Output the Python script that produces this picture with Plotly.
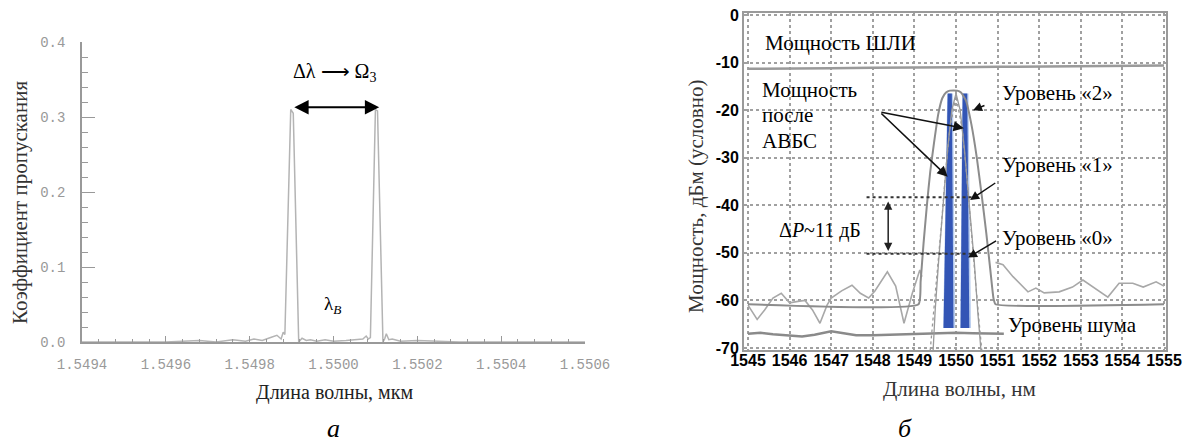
import plotly.graph_objects as go

# ---------------- Panel (a): transmission spectrum ----------------
wl_a = [1.54940, 1.54960, 1.54968, 1.54972, 1.54976, 1.54979, 1.54981, 1.54983, 1.54985,
        1.549865, 1.549875, 1.549880, 1.549884, 1.549898, 1.549904, 1.549917, 1.549925,
        1.549935, 1.549945, 1.54996, 1.54998, 1.55000, 1.55003, 1.55005, 1.55007, 1.550078,
        1.550083, 1.550088, 1.550100, 1.550105, 1.550118, 1.550122, 1.550126, 1.550132,
        1.550140, 1.550160, 1.550200, 1.550300, 1.550600]
t_a = [0.0, 0.0, 0.002, 0.0, 0.003, 0.001, 0.004, 0.002, 0.006,
       0.009, 0.004, 0.013, 0.01, 0.31, 0.305, 0.0, 0.005,
       0.002, 0.003, 0.001, 0.003, 0.001, 0.002, 0.003, 0.004, 0.008,
       0.004, 0.006, 0.31, 0.308, 0.0, 0.004, 0.011, 0.003,
       0.004, 0.001, 0.002, 0.0, 0.0]
xt_a = [1.5494, 1.5496, 1.5498, 1.5500, 1.5502, 1.5504, 1.5506]
xl_a = ["1.5494", "1.5496", "1.5498", "1.5500", "1.5502", "1.5504", "1.5506"]
yt_a = [0.0, 0.1, 0.2, 0.3, 0.4]
yl_a = ["0.0", "0.1", "0.2", "0.3", "0.4"]
arrow_a = [1.549903, 1.550109, 0.313]   # x start, x end, level

# ---------------- Panel (b): spectra, dBm ----------------
shli_x = [1545, 1546, 1547, 1548, 1549, 1550, 1551, 1552, 1553, 1554, 1555]
shli_y = [-11.3, -11.3, -11.2, -11.1, -11.1, -11.0, -10.9, -10.8, -10.8, -10.7, -10.6]

wide_x = [1545, 1549.10, 1549.15, 1549.22, 1549.30, 1549.38, 1549.47, 1549.57, 1549.67,
          1549.76, 1549.85, 1550.03, 1550.12, 1550.24, 1550.37, 1550.50, 1550.62, 1550.73,
          1550.83, 1550.90, 1550.95, 1555]
wide_y = [-60.8, -60.8, -56, -48, -40, -33, -27, -21, -17.5,
          -16.3, -15.9, -15.9, -16.3, -18, -23, -30, -38, -46,
          -54, -59.5, -60.8, -60.8]

noise_x = [1545, 1545.3, 1545.6, 1546, 1546.3, 1546.6, 1547, 1547.3, 1547.6, 1548,
           1548.4, 1548.8, 1549.2, 1549.6, 1550, 1550.4, 1550.8, 1551.15]
noise_y = [-67.0, -66.8, -67.1, -67.4, -67.6, -67.2, -66.5, -66.9, -67.3, -67.3,
           -67.2, -67.0, -66.9, -66.8, -66.8, -66.9, -67.0, -67.0]

osa_left_x = [1545, 1545.1, 1545.22, 1545.4, 1545.6, 1545.8, 1546, 1546.2, 1546.37,
              1546.55, 1546.73, 1546.9, 1547, 1547.25, 1547.5, 1547.7, 1547.9, 1548.05,
              1548.35, 1548.55, 1548.75, 1548.95, 1549.13, 1549.18]
osa_left_y = [-61, -62.5, -64, -62, -59.5, -58.5, -60.5, -60.2, -60,
              -62, -64.8, -61, -59.5, -58, -56.8, -58.5, -59.5, -58,
              -54, -57, -64.8, -58.5, -53.6, -55]
osa_right_x = [1550.95, 1551.13, 1551.37, 1551.55, 1551.73, 1551.92, 1552.12, 1552.48,
               1552.8, 1553.05, 1553.29, 1553.65, 1553.92, 1554.25, 1554.5, 1554.81, 1555]
osa_right_y = [-52, -52.5, -55, -56.5, -58.2, -57.4, -58.4, -58.2,
               -57.2, -55.7, -57.2, -59.3, -56.4, -56.4, -57.2, -56.1, -57]

narrow1_x = [1549.45, 1549.50, 1549.58, 1549.65, 1549.72, 1549.80, 1549.90, 1550.00,
             1550.10, 1550.20, 1550.28, 1550.36, 1550.44, 1550.52, 1550.60]
narrow1_y = [-70.5, -62, -52, -44, -36, -28, -20, -16.5, -20, -28, -36, -44, -52, -62, -70.5]
narrow2_x = [1549.38, 1549.45, 1549.55, 1549.65, 1549.75, 1549.85, 1550.00, 1550.15,
             1550.25, 1550.35, 1550.45, 1550.55, 1550.62]
narrow2_y = [-70.5, -64, -54, -44, -33, -24, -17, -24, -33, -44, -54, -64, -70.5]

bar1_x = [1549.70, 1549.80, 1549.90, 1549.94, 1549.70]
bar2_x = [1550.11, 1550.16, 1550.27, 1550.32, 1550.11]
bar_y = [-65.8, -16.5, -16.5, -65.8, -65.8]
halo1_x = [1549.69, 1549.79, 1549.93, 1549.98, 1549.69]
halo2_x = [1550.10, 1550.15, 1550.30, 1550.36, 1550.10]

level_x = [1547.85, 1550.45]
level1_y = -38.3
level0_y = -50.2
dp_arrow = [1548.37, -38.9, -49.6]

xt_b = list(range(1545, 1556))
xl_b = [str(v) for v in xt_b]
yt_b = [0, -10, -20, -30, -40, -50, -60, -70]
yl_b = ["0", "-10", "-20", "-30", "-40", "-50", "-60", "-70"]

W, H = 1186, 443
def px(x): return x / W
def py(y): return 1 - y / H

fig = go.Figure()

# Panel a
fig.add_trace(go.Scatter(x=wl_a, y=t_a, mode="lines", line=dict(color="#b4b4b4", width=1.5),
                         xaxis="x", yaxis="y", showlegend=False, hoverinfo="skip"))

# Panel b traces
gray = "#8c8c8c"
fig.add_trace(go.Scatter(x=shli_x, y=shli_y, mode="lines", line=dict(color="#9a9a9a", width=2.5),
                         xaxis="x2", yaxis="y2", showlegend=False))
fig.add_trace(go.Scatter(x=osa_left_x, y=osa_left_y, mode="lines", line=dict(color="#a8a8a8", width=1.6),
                         xaxis="x2", yaxis="y2", showlegend=False))
fig.add_trace(go.Scatter(x=osa_right_x, y=osa_right_y, mode="lines", line=dict(color="#a8a8a8", width=1.6),
                         xaxis="x2", yaxis="y2", showlegend=False))
fig.add_trace(go.Scatter(x=noise_x, y=noise_y, mode="lines", line=dict(color="#8a8a8a", width=2.5),
                         xaxis="x2", yaxis="y2", showlegend=False))
fig.add_trace(go.Scatter(x=halo1_x, y=bar_y, fill="toself", mode="none", fillcolor="#b9cdee",
                         xaxis="x2", yaxis="y2", showlegend=False))
fig.add_trace(go.Scatter(x=halo2_x, y=bar_y, fill="toself", mode="none", fillcolor="#b9cdee",
                         xaxis="x2", yaxis="y2", showlegend=False))
fig.add_trace(go.Scatter(x=bar1_x, y=bar_y, fill="toself", mode="none", fillcolor="#3355b5",
                         xaxis="x2", yaxis="y2", showlegend=False))
fig.add_trace(go.Scatter(x=bar2_x, y=bar_y, fill="toself", mode="none", fillcolor="#3355b5",
                         xaxis="x2", yaxis="y2", showlegend=False))
fig.add_trace(go.Scatter(x=narrow2_x, y=narrow2_y, mode="lines", line=dict(color="#999999", width=1.3, dash="dot"),
                         xaxis="x2", yaxis="y2", showlegend=False))
fig.add_trace(go.Scatter(x=narrow1_x, y=narrow1_y, mode="lines", line=dict(color="#9a9a9a", width=1.3),
                         xaxis="x2", yaxis="y2", showlegend=False))
fig.add_trace(go.Scatter(x=wide_x, y=wide_y, mode="lines", line=dict(color=gray, width=2, shape="spline", smoothing=0.4),
                         xaxis="x2", yaxis="y2", showlegend=False))
fig.add_trace(go.Scatter(x=level_x, y=[level1_y, level1_y], mode="lines",
                         line=dict(color="#333333", width=2, dash="dot"),
                         xaxis="x2", yaxis="y2", showlegend=False))
fig.add_trace(go.Scatter(x=level_x, y=[level0_y, level0_y], mode="lines",
                         line=dict(color="#333333", width=2, dash="dot"),
                         xaxis="x2", yaxis="y2", showlegend=False))

serif = "Liberation Serif, Times New Roman, serif"
ann = []

def pt(x, y, text, size, color="black", angle=0):
    return dict(x=px(x), y=py(y), xref="paper", yref="paper", text=text, showarrow=False,
                xanchor="center", yanchor="middle", textangle=angle,
                font=dict(family=serif, size=size, color=color))

# panel a annotations
ann.append(dict(x=arrow_a[1], y=arrow_a[2], ax=arrow_a[0], ay=arrow_a[2], xref="x", yref="y",
                axref="x", ayref="y", text="", showarrow=True, arrowhead=2, startarrowhead=2,
                arrowside="end+start", arrowsize=1.3, startarrowsize=1.3, arrowwidth=2.2,
                arrowcolor="black", standoff=0, startstandoff=0))
ann.append(dict(x=1.550003, y=0.359, xref="x", yref="y", text="Δλ ⟶ Ω<sub>3</sub>", showarrow=False,
                xanchor="center", yanchor="middle", font=dict(family=serif, size=20, color="black")))
ann.append(dict(x=1.549998, y=0.049, xref="x", yref="y", text="λ<sub><i>B</i></sub>", showarrow=False,
                xanchor="center", yanchor="middle", font=dict(family=serif, size=19, color="black")))
ann.append(pt(334, 392, "Длина волны, мкм", 20, "#222222"))
ann.append(pt(20, 203, "Коэффициент пропускания", 21, "#333333", -90))
ann.append(pt(333, 428, "<i>а</i>", 26))

# panel b annotations
ann.append(pt(905, 428, "<i>б</i>", 26))
ann.append(pt(959, 389, "Длина волны, нм", 21, "#333333"))
ann.append(pt(696, 197, "Мощность, дБм (условно)", 21, "#333333", -90))

def tb(x, y, text, xanchor="left", size=21):
    return dict(x=x, y=y, xref="x2", yref="y2", text=text, showarrow=False, xanchor=xanchor,
                yanchor="middle", font=dict(family=serif, size=size, color="black"))

ann.append(tb(1545.35, -5.9, "Мощность ШЛИ"))
ann.append(tb(1545.3, -15.8, "Мощность"))
ann.append(tb(1545.3, -21.1, "после"))
ann.append(tb(1545.3, -26.4, "АВБС"))
ann.append(tb(1551.05, -16.4, "Уровень «2»"))
ann.append(tb(1551.05, -31.5, "Уровень «1»"))
ann.append(tb(1551.05, -46.9, "Уровень «0»"))
ann.append(tb(1551.2, -65.2, "Уровень шума"))
ann.append(tb(1546.73, -45.2, "Δ<i>P</i>~11 дБ", xanchor="center", size=20))

def arr(x0, y0, x1, y1, w=1.5, size=1.2):
    return dict(x=x1, y=y1, ax=x0, ay=y0, xref="x2", yref="y2", axref="x2", ayref="y2", text="",
                showarrow=True, arrowhead=2, arrowsize=size, arrowwidth=w, arrowcolor="#111111",
                standoff=0)

ann.append(arr(1548.17, -20.4, 1549.80, -34.0, w=1.6, size=1.3))
ann.append(arr(1548.17, -20.4, 1550.19, -23.8, w=1.6, size=1.3))
ann.append(arr(1550.72, -18.9, 1550.41, -20.0))
ann.append(arr(1550.98, -35.1, 1550.34, -38.9))
ann.append(arr(1551.00, -47.3, 1550.29, -51.0))
ann.append(dict(x=dp_arrow[0], y=dp_arrow[2], ax=dp_arrow[0], ay=dp_arrow[1], xref="x2", yref="y2",
                axref="x2", ayref="y2", text="", showarrow=True, arrowhead=2, startarrowhead=2,
                arrowside="end+start", arrowsize=1.1, startarrowsize=1.1, arrowwidth=1.5,
                arrowcolor="#222222", standoff=0, startstandoff=0))

mono = "Liberation Mono, Courier New, monospace"
bold = "Liberation Sans, Arial"

fig.update_layout(
    width=W, height=H, margin=dict(l=0, r=0, t=0, b=0),
    paper_bgcolor="white", plot_bgcolor="white", showlegend=False,
    annotations=ann,
    xaxis=dict(domain=[px(82), px(585)], range=[1.5494, 1.5506], anchor="y",
               tickvals=xt_a, ticktext=xl_a, ticks="inside", ticklen=6, tickwidth=1.2,
               tickcolor="#999999", showline=True, linecolor="#999999", linewidth=1.5,
               showgrid=False, zeroline=False, ticklabelstandoff=8,
               minor=dict(ticks="inside", ticklen=3, dtick=0.00004, tickcolor="#999999", showgrid=False),
               tickfont=dict(family=mono, size=14, color="#999999"), automargin=False),
    yaxis=dict(domain=[py(342), py(42)], range=[0, 0.4], anchor="x",
               tickvals=yt_a, ticktext=yl_a, ticks="inside", ticklen=13, tickwidth=1.2,
               tickcolor="#999999", showline=True, linecolor="#999999", linewidth=1.5,
               showgrid=False, zeroline=False, ticklabelstandoff=12,
               minor=dict(ticks="inside", ticklen=6, dtick=0.02, tickcolor="#999999", showgrid=False),
               tickfont=dict(family=mono, size=14, color="#999999"), automargin=False),
    xaxis2=dict(domain=[px(744), px(1166)], range=[1544.904, 1555.048], anchor="y2",
                tickvals=xt_b, ticktext=xl_b, ticks="", showline=True, mirror=True,
                linecolor="#9a9a9a", linewidth=2, showgrid=True, gridcolor="#a0a0a0",
                griddash="dot", gridwidth=1.5, zeroline=False, ticklabelstandoff=-5,
                tickfont=dict(family=bold, size=16, color="black", weight="bold"), automargin=False),
    yaxis2=dict(domain=[py(350), py(13)], range=[-70.42, 0.42], anchor="x2",
                tickvals=yt_b, ticktext=yl_b, ticks="", showline=True, mirror=True,
                linecolor="#9a9a9a", linewidth=2, showgrid=True, gridcolor="#a0a0a0",
                griddash="dot", gridwidth=1.5, zeroline=False, ticklabelstandoff=0,
                tickfont=dict(family=bold, size=16, color="black", weight="bold"), automargin=False),
)

fig.write_html("out.html", config={"displayModeBar": False},
               post_script="document.body.style.margin='0px';")
